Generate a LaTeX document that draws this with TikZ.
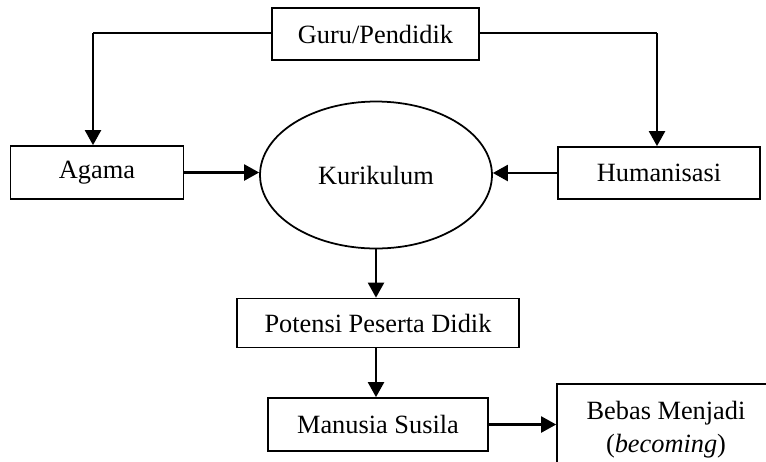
\documentclass[tikz,border=0pt]{standalone}
\usepackage{fontspec}
\setmainfont{Liberation Serif}
\usetikzlibrary{arrows.meta,shapes.geometric}
\tikzset{
  boxnode/.style={draw=black,line width=1pt,rectangle,inner sep=0pt,align=center,font=\fontsize{15}{19}\selectfont},
  ellnode/.style={draw=black,line width=1pt,ellipse,inner sep=0pt,align=center,font=\fontsize{15}{19}\selectfont},
  conn/.style={line width=1.3pt,-{Triangle[length=0.3cm,width=0.32cm]}},
  plain/.style={line width=1.3pt}
}
\begin{document}
\begin{tikzpicture}[x=0.02cm,y=-0.02cm]
\clip (0,0) rectangle (766,461);
\fill[white] (0,0) rectangle (766,461);
\node[boxnode,minimum width=4.14cm,minimum height=1.04cm] (guru) at (375.5,34) {Guru/Pendidik};
\node[boxnode,minimum width=3.46cm,minimum height=1.06cm] (agama) at (97,172.5) {Agama};
\node[boxnode,minimum width=4.04cm,minimum height=1.04cm] (human) at (659,173) {Humanisasi};
\node[ellnode,minimum width=4.64cm,minimum height=2.94cm] (kur) at (376,175) {Kurikulum};
\node[boxnode,minimum width=5.64cm,minimum height=0.98cm] (pot) at (378,323) {Potensi Peserta Didik};
\node[boxnode,minimum width=4.4cm,minimum height=1.06cm] (man) at (378,424.5) {Manusia Susila};
\node[boxnode,minimum width=4.36cm,minimum height=1.82cm] (beb) at (666,429.5) {Bebas Menjadi\\(\textit{becoming})};
\coordinate (gl) at (93,33);
\coordinate (gr) at (657,33);
\draw[plain] (guru.west |- gl) -- (gl);
\draw[conn] (gl) -- (gl |- agama.north);
\draw[plain] (guru.east |- gr) -- (gr);
\draw[conn] (gr) -- (gr |- human.north);
\draw[conn] (agama.east) -- (agama.east -| kur.west);
\draw[conn] (human.west) -- (human.west -| kur.east);
\draw[conn] (kur.south) -- (kur.south |- pot.north);
\draw[conn] (pot.south -| kur.south) -- (kur.south |- man.north);
\draw[conn] (man.east) -- (man.east -| beb.west);
\end{tikzpicture}
\end{document}
